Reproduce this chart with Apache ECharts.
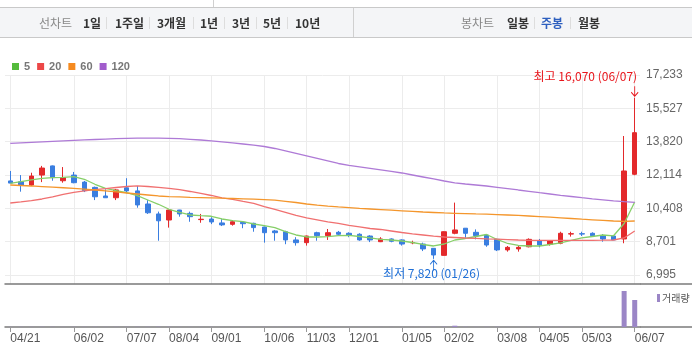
<!DOCTYPE html>
<html><head><meta charset="utf-8">
<script src="https://cdn.jsdelivr.net/npm/echarts@6/dist/echarts.min.js"></script>
<style>html,body{margin:0;padding:0;background:#fff}#c{width:692px;height:355px}</style>
</head><body><div id="c"></div>
<script>
// ---- data ----
const dates = ['04/21','04/28','05/05','05/12','05/19','05/26','06/02','06/09','06/16','06/23','06/30','07/07','07/14','07/21','07/28','08/04','08/11','08/18','08/25','09/01','09/08','09/15','09/22','09/29','10/06','10/13','10/20','10/27','11/03','11/10','11/17','11/24','12/01','12/08','12/15','12/22','12/29','01/05','01/12','01/19','01/26','02/02','02/09','02/16','02/23','03/01','03/08','03/15','03/22','03/29','04/05','04/12','04/19','04/26','05/03','05/10','05/17','05/24','05/31','06/07'];
const tickLabels = ['04/21','06/02','07/07','08/04','09/01','10/06','11/03','12/01','01/05','02/02','03/08','04/05','05/03','06/07'];
const yTicks = [6995, 8701, 10408, 12114, 13820, 15527, 17233];

const opens  = [11810,11770,11600,12110,12580,11820,12110,11750,11480,11040,10950,11460,11300,10630,10120,9810,10320,10150,9830,9860,9660,9590,9690,9640,9450,9250,9210,8790,8650,9160,9010,9180,9130,9080,8990,8700,8840,8790,8640,8580,8360,8000,9130,9390,9180,9040,8820,8280,8330,8440,8750,8570,8620,9090,9110,9130,9010,8990,8840,12150];
const closes = [11700,11600,12060,12470,11980,11980,11720,11310,11000,10950,11350,11300,10580,10180,9770,10320,10120,9980,9850,9710,9560,9720,9620,9420,9160,9160,8790,8650,8990,9010,9160,9080,9040,8790,8790,8840,8720,8580,8660,8330,8020,9210,9300,9130,9010,8530,8280,8410,8410,8820,8530,8740,9130,9110,9090,9010,8840,8790,12320,14280];
const lows   = [11690,11260,11550,11750,11820,11720,11690,11240,10830,10940,10830,11180,10440,10120,8750,9420,9980,9720,9670,9600,9500,9520,9390,9210,8650,8750,8570,8500,8500,8750,8790,8990,8930,8750,8680,8680,8670,8500,8570,8220,7820,7990,9080,8900,8820,8440,8220,8190,8190,8410,8410,8500,8570,8960,8990,8960,8700,8790,8620,12100];
const highs  = [12320,12110,12230,12580,12600,12520,12270,11810,11520,11380,11400,11950,11550,10830,10240,10330,10330,10240,10120,9950,9850,9810,9710,9670,9470,9300,9260,8930,9010,9210,9350,9250,9180,9130,9030,8930,8870,8820,8750,8650,8360,9230,10700,9400,9330,9090,8850,8480,8520,8870,8840,8740,9210,9210,9210,9180,9090,8990,14110,16070];

const ma5   = [11690,11772,11859,11946,11977,11997,12028,11895,11639,11434,11311,11209,11055,10835,10615,10359,10205,10067,10031,10001,9862,9775,9724,9606,9519,9417,9212,9043,8941,8941,8956,9007,9028,8966,8890,8823,8787,8736,8659,8557,8480,8582,8787,8864,8966,9068,8813,8608,8506,8480,8480,8557,8634,8762,8890,8966,9043,9002,9632,10733];
const ma20  = [10681,10733,10799,10886,10989,11117,11219,11296,11362,11413,11475,11526,11552,11526,11485,11434,11362,11270,11168,11065,10948,10861,10758,10656,10492,10349,10195,10042,9924,9821,9719,9632,9530,9453,9376,9325,9248,9171,9097,9043,8982,8941,8915,8890,8874,8849,8828,8808,8787,8772,8767,8767,8767,8767,8767,8772,8777,8787,8890,9248];
const ma60  = [11603,11577,11552,11521,11490,11460,11429,11388,11347,11296,11245,11193,11142,11091,11040,11004,10989,10973,10958,10943,10927,10912,10896,10876,10855,10825,10768,10707,10630,10569,10518,10477,10441,10405,10374,10344,10313,10282,10251,10221,10195,10170,10154,10139,10123,10108,10088,10067,10042,10016,9985,9955,9924,9888,9852,9821,9791,9760,9735,9760];
const ma120 = [13737,13763,13788,13814,13839,13865,13891,13911,13932,13952,13973,13988,13998,14003,14003,13993,13973,13942,13906,13865,13814,13763,13701,13640,13573,13471,13343,13215,13087,12959,12831,12703,12611,12534,12457,12381,12304,12217,12114,12012,11910,11807,11715,11654,11603,11551,11485,11418,11347,11280,11208,11142,11075,11014,10953,10896,10845,10794,10753,10717];
const volumes = [12000,15000,14000,18000,16000,12000,14000,13000,15000,11000,13000,14000,16000,15000,22000,18000,12000,11000,10000,10000,9000,9000,10000,11000,14000,12000,13000,12000,14000,10000,11000,9000,9000,10000,9000,8000,8000,9000,8000,11000,15000,25000,130000,18000,12000,14000,15000,10000,9000,11000,10000,9000,14000,9000,8000,9000,10000,9000,3600000,2700000];

// ---- chart ----
const FONT = '"Liberation Sans", Arial, "Noto Sans CJK KR", sans-serif';
const KFONT = '"Noto Sans CJK KR", "Liberation Sans", sans-serif';
const UP = '#e3292b', DOWN = '#3a7ee0';
const HI_C = '#e8161c', LO_C = '#1f6fd6';
const fmt = v => Number(v).toLocaleString('en-US');
const showTick = (i, v) => tickLabels.indexOf(v) >= 0;

const hiIdx = highs.indexOf(Math.max(...highs));
const loIdx = lows.indexOf(Math.min(...lows));
const candleData = dates.map((d, i) => [opens[i], closes[i], lows[i], highs[i]]);

const arrow = 'path://M4,0L4,10M0,6L4,10L8,6';

function hdrText(x, text, color, bold) {
  return {type: 'text', x: x, y: 23, style: {text: text, fill: color, font: (bold ? 'bold ' : '') + '12px ' + KFONT, textVerticalAlign: 'middle', verticalAlign: 'middle'}};
}
function sep(x) {
  return {type: 'line', shape: {x1: x + 0.5, y1: 17, x2: x + 0.5, y2: 29}, style: {stroke: '#dddddd', lineWidth: 1}};
}

const chart = echarts.init(document.getElementById('c'));
chart.setOption({
  animation: false,
  textStyle: {fontFamily: FONT},
  legend: [
    {data: ['5', '20', '60', '120'], left: 12, top: 61, padding: 0, itemWidth: 7, itemHeight: 7, itemGap: 7, icon: 'rect', selectedMode: false,
     textStyle: {color: '#777', fontWeight: 'bold', fontSize: 11, fontFamily: FONT}},
    {data: ['거래량'], left: 657, top: 293, padding: 0, itemWidth: 3, itemHeight: 8, icon: 'rect', selectedMode: false,
     textStyle: {color: '#555', fontSize: 10, fontFamily: KFONT, padding: [0, 0, 0, -3]}}
  ],
  grid: [
    {left: 5, right: 52, top: 75, bottom: 71},
    {left: 5, right: 52, top: 284, bottom: 28}
  ],
  xAxis: [
    {type: 'category', data: dates, gridIndex: 0, boundaryGap: true,
     axisLine: {show: true, lineStyle: {color: '#7a7a7a', width: 1.5}},
     axisTick: {show: false}, axisLabel: {show: false},
     splitLine: {show: true, interval: showTick, alignWithLabel: true, lineStyle: {color: '#ececec', width: 1}}},
    {type: 'category', data: dates, gridIndex: 1, boundaryGap: true,
     axisLine: {show: true, lineStyle: {color: '#7a7a7a', width: 1.5}},
     axisTick: {show: true, alignWithLabel: true, interval: showTick, length: 5, lineStyle: {color: '#999'}},
     axisLabel: {interval: showTick, align: 'left', margin: 6, color: '#555', fontSize: 12, fontFamily: FONT},
     splitLine: {show: false}}
  ],
  yAxis: [
    {type: 'value', gridIndex: 0, position: 'right', min: 6534, max: 17233, scale: true,
     axisLine: {show: false}, axisTick: {show: false, customValues: yTicks},
     axisLabel: {customValues: yTicks, margin: 6, color: '#666', fontSize: 12, fontFamily: FONT, formatter: v => fmt(v)},
     splitLine: {show: true, lineStyle: {color: '#ececec', width: 1}}},
    {type: 'value', gridIndex: 1, min: 0, max: 4300000, show: false, splitLine: {show: false}}
  ],
  series: [
    {type: 'candlestick', name: '주가', xAxisIndex: 0, yAxisIndex: 0, data: candleData, barWidth: 5,
     itemStyle: {color: UP, color0: DOWN, borderColor: UP, borderColor0: DOWN, borderWidth: 1},
     markPoint: {
       symbol: arrow, symbolSize: [7, 10], silent: true, animation: false,
       data: [
         {name: 'hi', coord: [hiIdx, highs[hiIdx]], symbolOffset: [0, -6.5],
          itemStyle: {color: 'none', borderColor: HI_C, borderWidth: 1},
          label: {show: true, formatter: '최고 ' + fmt(highs[hiIdx]) + ' (' + dates[hiIdx] + ')', position: [8, -6.5], align: 'right', verticalAlign: 'middle', color: HI_C, fontSize: 12, fontFamily: KFONT}},
         {name: 'lo', coord: [loIdx, lows[loIdx]], symbolRotate: 180, symbolOffset: [0, 6.5],
          itemStyle: {color: 'none', borderColor: LO_C, borderWidth: 1},
          label: {show: true, formatter: '최저 ' + fmt(lows[loIdx]) + ' (' + dates[loIdx] + ')', position: [3.5, 16.5], align: 'center', verticalAlign: 'middle', color: LO_C, fontSize: 12, fontFamily: KFONT}}
       ]
     }},
    {type: 'line', name: '5', xAxisIndex: 0, yAxisIndex: 0, data: ma5, symbol: 'none', silent: true,
     itemStyle: {color: '#55bb3c'}, lineStyle: {width: 1.3, color: '#86cf68'}},
    {type: 'line', name: '20', xAxisIndex: 0, yAxisIndex: 0, data: ma20, symbol: 'none', silent: true,
     itemStyle: {color: '#ec4747'}, lineStyle: {width: 1.3, color: '#f07070'}},
    {type: 'line', name: '60', xAxisIndex: 0, yAxisIndex: 0, data: ma60, symbol: 'none', silent: true,
     itemStyle: {color: '#f58a1f'}, lineStyle: {width: 1.3, color: '#f4962c'}},
    {type: 'line', name: '120', xAxisIndex: 0, yAxisIndex: 0, data: ma120, symbol: 'none', silent: true,
     itemStyle: {color: '#a15ccc'}, lineStyle: {width: 1.3, color: '#ae7ad6'}},
    {type: 'bar', name: '거래량', xAxisIndex: 1, yAxisIndex: 1, data: volumes, barWidth: 5,
     itemStyle: {color: '#9b86c6'}}
  ],
  graphic: [
    {type: 'line', shape: {x1: 213.5, y1: 0, x2: 213.5, y2: 7}, style: {stroke: '#d0d0d0', lineWidth: 1}},
    {type: 'rect', shape: {x: -2, y: 7.5, width: 696, height: 30}, style: {fill: '#f4f5f7', stroke: '#c9c9c9', lineWidth: 1}},
    {type: 'line', shape: {x1: 353.5, y1: 8, x2: 353.5, y2: 37}, style: {stroke: '#d0d0d0', lineWidth: 1}},
    hdrText(39, '선차트', '#888', false),
    hdrText(83, '1일', '#333', true), sep(106),
    hdrText(115, '1주일', '#333', true), sep(149),
    hdrText(157, '3개월', '#333', true), sep(193),
    hdrText(200, '1년', '#333', true), sep(224),
    hdrText(232, '3년', '#333', true), sep(256),
    hdrText(263, '5년', '#333', true), sep(287),
    hdrText(295, '10년', '#333', true),
    hdrText(461, '봉차트', '#888', false),
    hdrText(507, '일봉', '#333', true), sep(534),
    hdrText(541, '주봉', '#2d5fbf', true), sep(570),
    hdrText(578, '월봉', '#333', true),
    {type: 'line', shape: {x1: 640, y1: 284, x2: 692, y2: 284}, style: {stroke: '#7a7a7a', lineWidth: 1.5}},
    {type: 'line', shape: {x1: 640, y1: 327, x2: 692, y2: 327}, style: {stroke: '#7a7a7a', lineWidth: 1.5}}
  ]
});
</script>
</body></html>
